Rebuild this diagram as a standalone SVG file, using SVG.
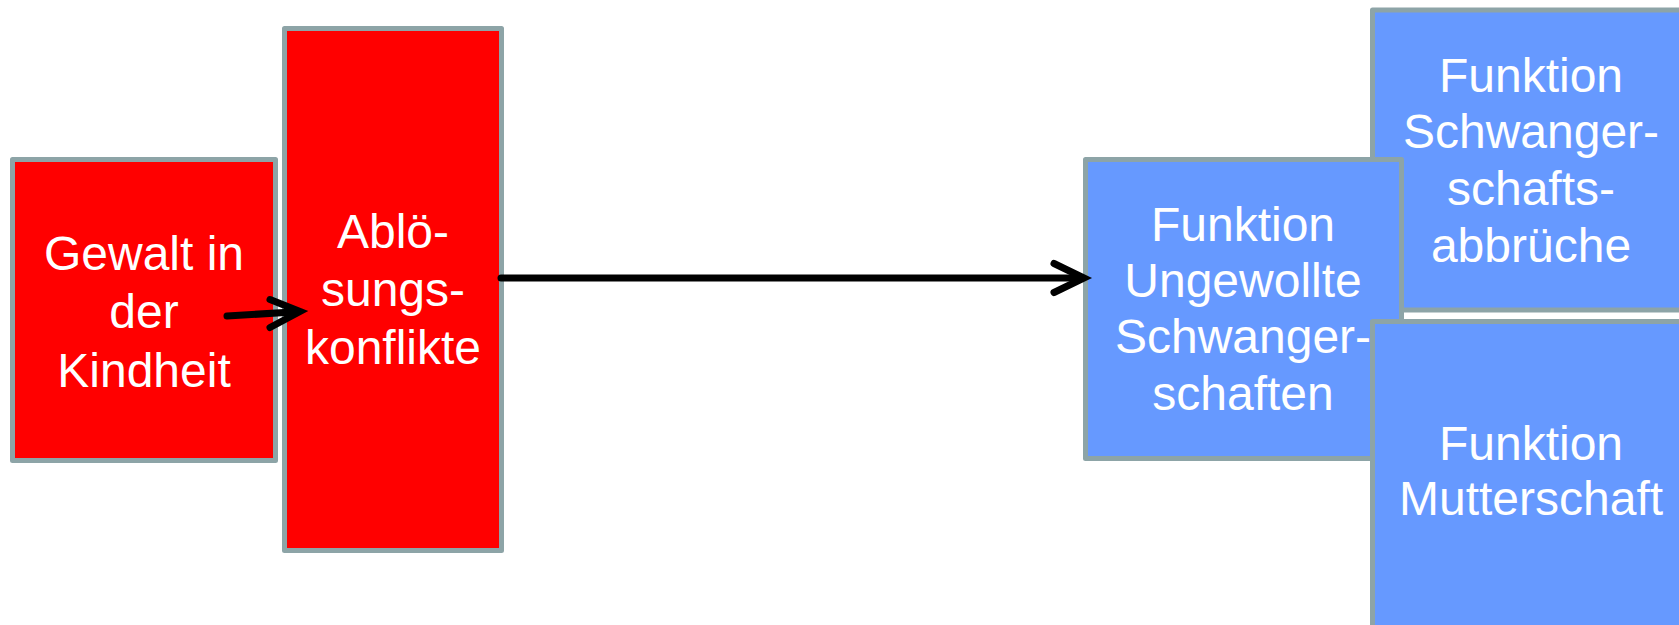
<svg xmlns="http://www.w3.org/2000/svg" width="1679" height="625" viewBox="0 0 1679 625">
  <style>
    .box { stroke: #8DA4A7; stroke-width: 5; stroke-linejoin: round; }
    .red { fill: #FF0000; }
    .blue { fill: #6699FF; }
    .label { fill: #FFFFFF; font-family: "Liberation Sans", Arial, sans-serif; font-size: 48px; text-anchor: middle; }
    .conn { fill: none; stroke: #000000; stroke-width: 7; stroke-linecap: round; stroke-linejoin: miter; }
  </style>
  <rect width="1679" height="625" fill="#FFFFFF"/>

  <g id="gewalt">
    <rect class="box red" x="12.5" y="159.5" width="263" height="301"/>
    <text class="label" x="144" y="270">Gewalt in</text>
    <text class="label" x="144" y="328">der</text>
    <text class="label" x="144" y="387">Kindheit</text>
  </g>

  <g id="abloesung">
    <rect class="box red" x="284.5" y="28.5" width="217" height="522"/>
    <text class="label" x="393" y="248">Ablö-</text>
    <text class="label" x="393" y="306">sungs-</text>
    <text class="label" x="393" y="364">konflikte</text>
  </g>

  <g id="abbrueche">
    <rect class="box blue" x="1372.5" y="10" width="320" height="300"/>
    <text class="label" x="1531" y="92">Funktion</text>
    <text class="label" x="1531" y="148">Schwanger-</text>
    <text class="label" x="1531" y="205">schafts-</text>
    <text class="label" x="1531" y="262">abbrüche</text>
  </g>

  <g id="ungewollte">
    <rect class="box blue" x="1085.5" y="159.5" width="316" height="299"/>
    <text class="label" x="1243" y="241">Funktion</text>
    <text class="label" x="1243" y="297">Ungewollte</text>
    <text class="label" x="1243" y="353">Schwanger-</text>
    <text class="label" x="1243" y="410">schaften</text>
  </g>

  <g id="mutterschaft">
    <rect class="box blue" x="1372.5" y="321.5" width="320" height="320"/>
    <text class="label" x="1531" y="460">Funktion</text>
    <text class="label" x="1531" y="515">Mutterschaft</text>
  </g>

  <g id="connectors">
    <path class="conn" d="M227 316 L297 311.8"/>
    <path class="conn" d="M270 299.5 L300 311.5 L270 327.5"/>
    <path class="conn" d="M501 278 L1081 278" stroke-linecap="butt"/>
    <path class="conn" d="M1054 263.5 L1084 278 L1054 292.5"/>
  </g>
</svg>
